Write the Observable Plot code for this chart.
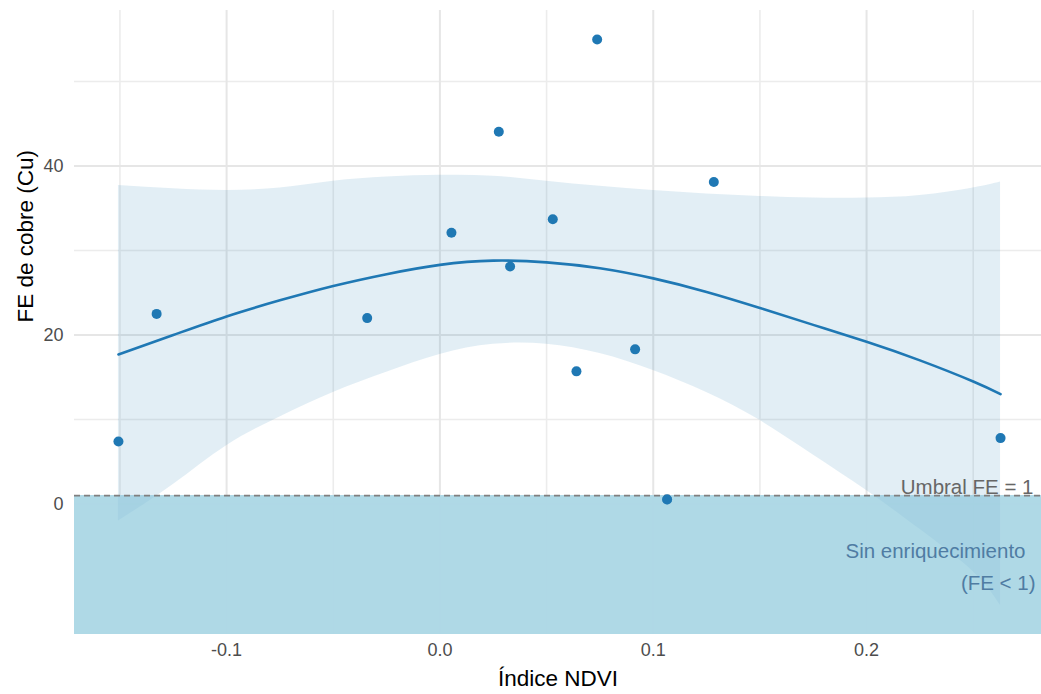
<!DOCTYPE html>
<html>
<head>
<meta charset="utf-8">
<script src="https://cdn.jsdelivr.net/npm/d3@7"></script>
<script src="https://cdn.jsdelivr.net/npm/@observablehq/plot@0.6"></script>
<style>
  html, body { margin: 0; padding: 0; background: #ffffff; }
  #chart svg { display: block; }
</style>
</head>
<body>
<div id="chart"></div>
<script>
// Observed points
const ndvi = [-0.1507, -0.1328, -0.0341, 0.0054, 0.0276, 0.0329, 0.0529, 0.0737, 0.0640, 0.0915, 0.1065, 0.1284, 0.2628];
const feCu = [7.4, 22.5, 22.0, 32.1, 44.05, 28.1, 33.7, 54.97, 15.7, 18.3, 0.53, 38.1, 7.8];

// Smooth fit and confidence band
const fitX  = [-0.1507, -0.125, -0.1, -0.075, -0.05, -0.025, 0, 0.025, 0.05, 0.075, 0.1, 0.125, 0.15, 0.175, 0.2, 0.225, 0.25, 0.2628];
const fitY  = [17.7, 20.0, 22.2, 24.1, 25.8, 27.2, 28.3, 28.8, 28.6, 27.9, 26.7, 25.1, 23.2, 21.2, 19.2, 17.0, 14.5, 13.0];
const fitHi = [37.7, 37.3, 37.1, 37.4, 38.2, 38.7, 38.9, 38.8, 38.2, 37.6, 37.1, 36.7, 36.4, 36.2, 36.2, 36.5, 37.4, 38.1];
const fitLo = [-2.0, 2.3, 6.9, 10.3, 13.2, 15.6, 17.7, 18.9, 18.9, 17.8, 15.8, 13.2, 9.9, 5.8, 1.6, -3.0, -8.0, -12.0];

// Threshold
const threshold = 1;

// Axes
const xDomain = [-0.1713, 0.2820];
const yDomain = [-15.44, 58.4];
const xTicks = [-0.1, 0.0, 0.1, 0.2];
const xMinor = [-0.15, -0.05, 0.05, 0.15, 0.25];
const yTicks = [0, 20, 40];
const yMinor = [10, 30, 50];

const xLabel = "Índice NDVI";
const yLabel = "FE de cobre (Cu)";
const thresholdLabel = "Umbral FE = 1";
const zoneLabel1 = "Sin enriquecimiento";
const zoneLabel2 = "(FE < 1)";

const points = ndvi.map((x, i) => ({x, y: feCu[i]}));
const fit = fitX.map((x, i) => ({x, y: fitY[i], lo: fitLo[i], hi: fitHi[i]}));

const blue = "#1f78b4";
const zoneFill = "#add8e6";

const chart = Plot.plot({
  width: 1041,
  height: 694,
  marginLeft: 74,
  marginRight: 0,
  marginTop: 10,
  marginBottom: 60,
  style: {fontFamily: "'Liberation Sans', Arial, sans-serif", background: "#ffffff", overflow: "visible"},
  x: {domain: xDomain},
  y: {domain: yDomain},
  marks: [
    Plot.ruleY(yMinor, {stroke: "#ececec", strokeWidth: 1.6}),
    Plot.ruleX(xMinor, {stroke: "#ececec", strokeWidth: 1.6}),
    Plot.ruleY(yTicks, {stroke: "#e6e6e6", strokeWidth: 2}),
    Plot.ruleX(xTicks, {stroke: "#e6e6e6", strokeWidth: 2}),
    Plot.rect([threshold], {y1: yDomain[0], y2: d => d, fill: zoneFill, fillOpacity: 0.95}),
    Plot.dot(points, {x: "x", y: "y", r: 5, fill: blue, stroke: "none"}),
    Plot.areaY(fit, {x: "x", y1: "lo", y2: "hi", fill: blue, fillOpacity: 0.13, curve: "natural"}),
    Plot.rect([threshold], {y1: yDomain[0], y2: d => d, fill: zoneFill, fillOpacity: 0.5}),
    Plot.line(fit, {x: "x", y: "y", stroke: blue, strokeWidth: 2.6, curve: "natural"}),
    Plot.ruleY([threshold], {stroke: "#7f7f7f", strokeWidth: 1.8, strokeDasharray: "6,4"}),
    Plot.dot(points.filter(d => d.y < threshold + 1), {x: "x", y: "y", r: 5, fill: blue, stroke: "none"}),
    Plot.text([thresholdLabel], {x: xDomain[1], y: threshold, text: d => d, textAnchor: "end", lineAnchor: "middle", dx: -8, dy: -8.5, fontSize: 20.5, fill: "#666666"}),
    Plot.text([zoneLabel1], {x: xDomain[1], y: threshold, text: d => d, textAnchor: "end", lineAnchor: "middle", dx: -16, dy: 56, fontSize: 20.5, fill: "#4f7ca3"}),
    Plot.text([zoneLabel2], {x: xDomain[1], y: threshold, text: d => d, textAnchor: "end", lineAnchor: "middle", dx: -6, dy: 88, fontSize: 20.5, fill: "#4f7ca3"}),
    Plot.axisX({ticks: xTicks, tickSize: 0, tickPadding: 9, tickFormat: d => d.toFixed(1), fontSize: 18, color: "#4d4d4d", label: null}),
    Plot.axisY({ticks: yTicks, tickSize: 0, tickPadding: 11, tickFormat: d => String(d), fontSize: 18, color: "#4d4d4d", label: null}),
    Plot.text([xLabel], {frameAnchor: "bottom", text: d => d, lineAnchor: "middle", dy: 44.5, fontSize: 22.5, fill: "#000000"}),
    Plot.text([yLabel], {frameAnchor: "left", text: d => d, lineAnchor: "middle", rotate: -90, dx: -49, fontSize: 22.5, fill: "#000000"})
  ]
});

document.getElementById("chart").appendChild(chart);
</script>
</body>
</html>
